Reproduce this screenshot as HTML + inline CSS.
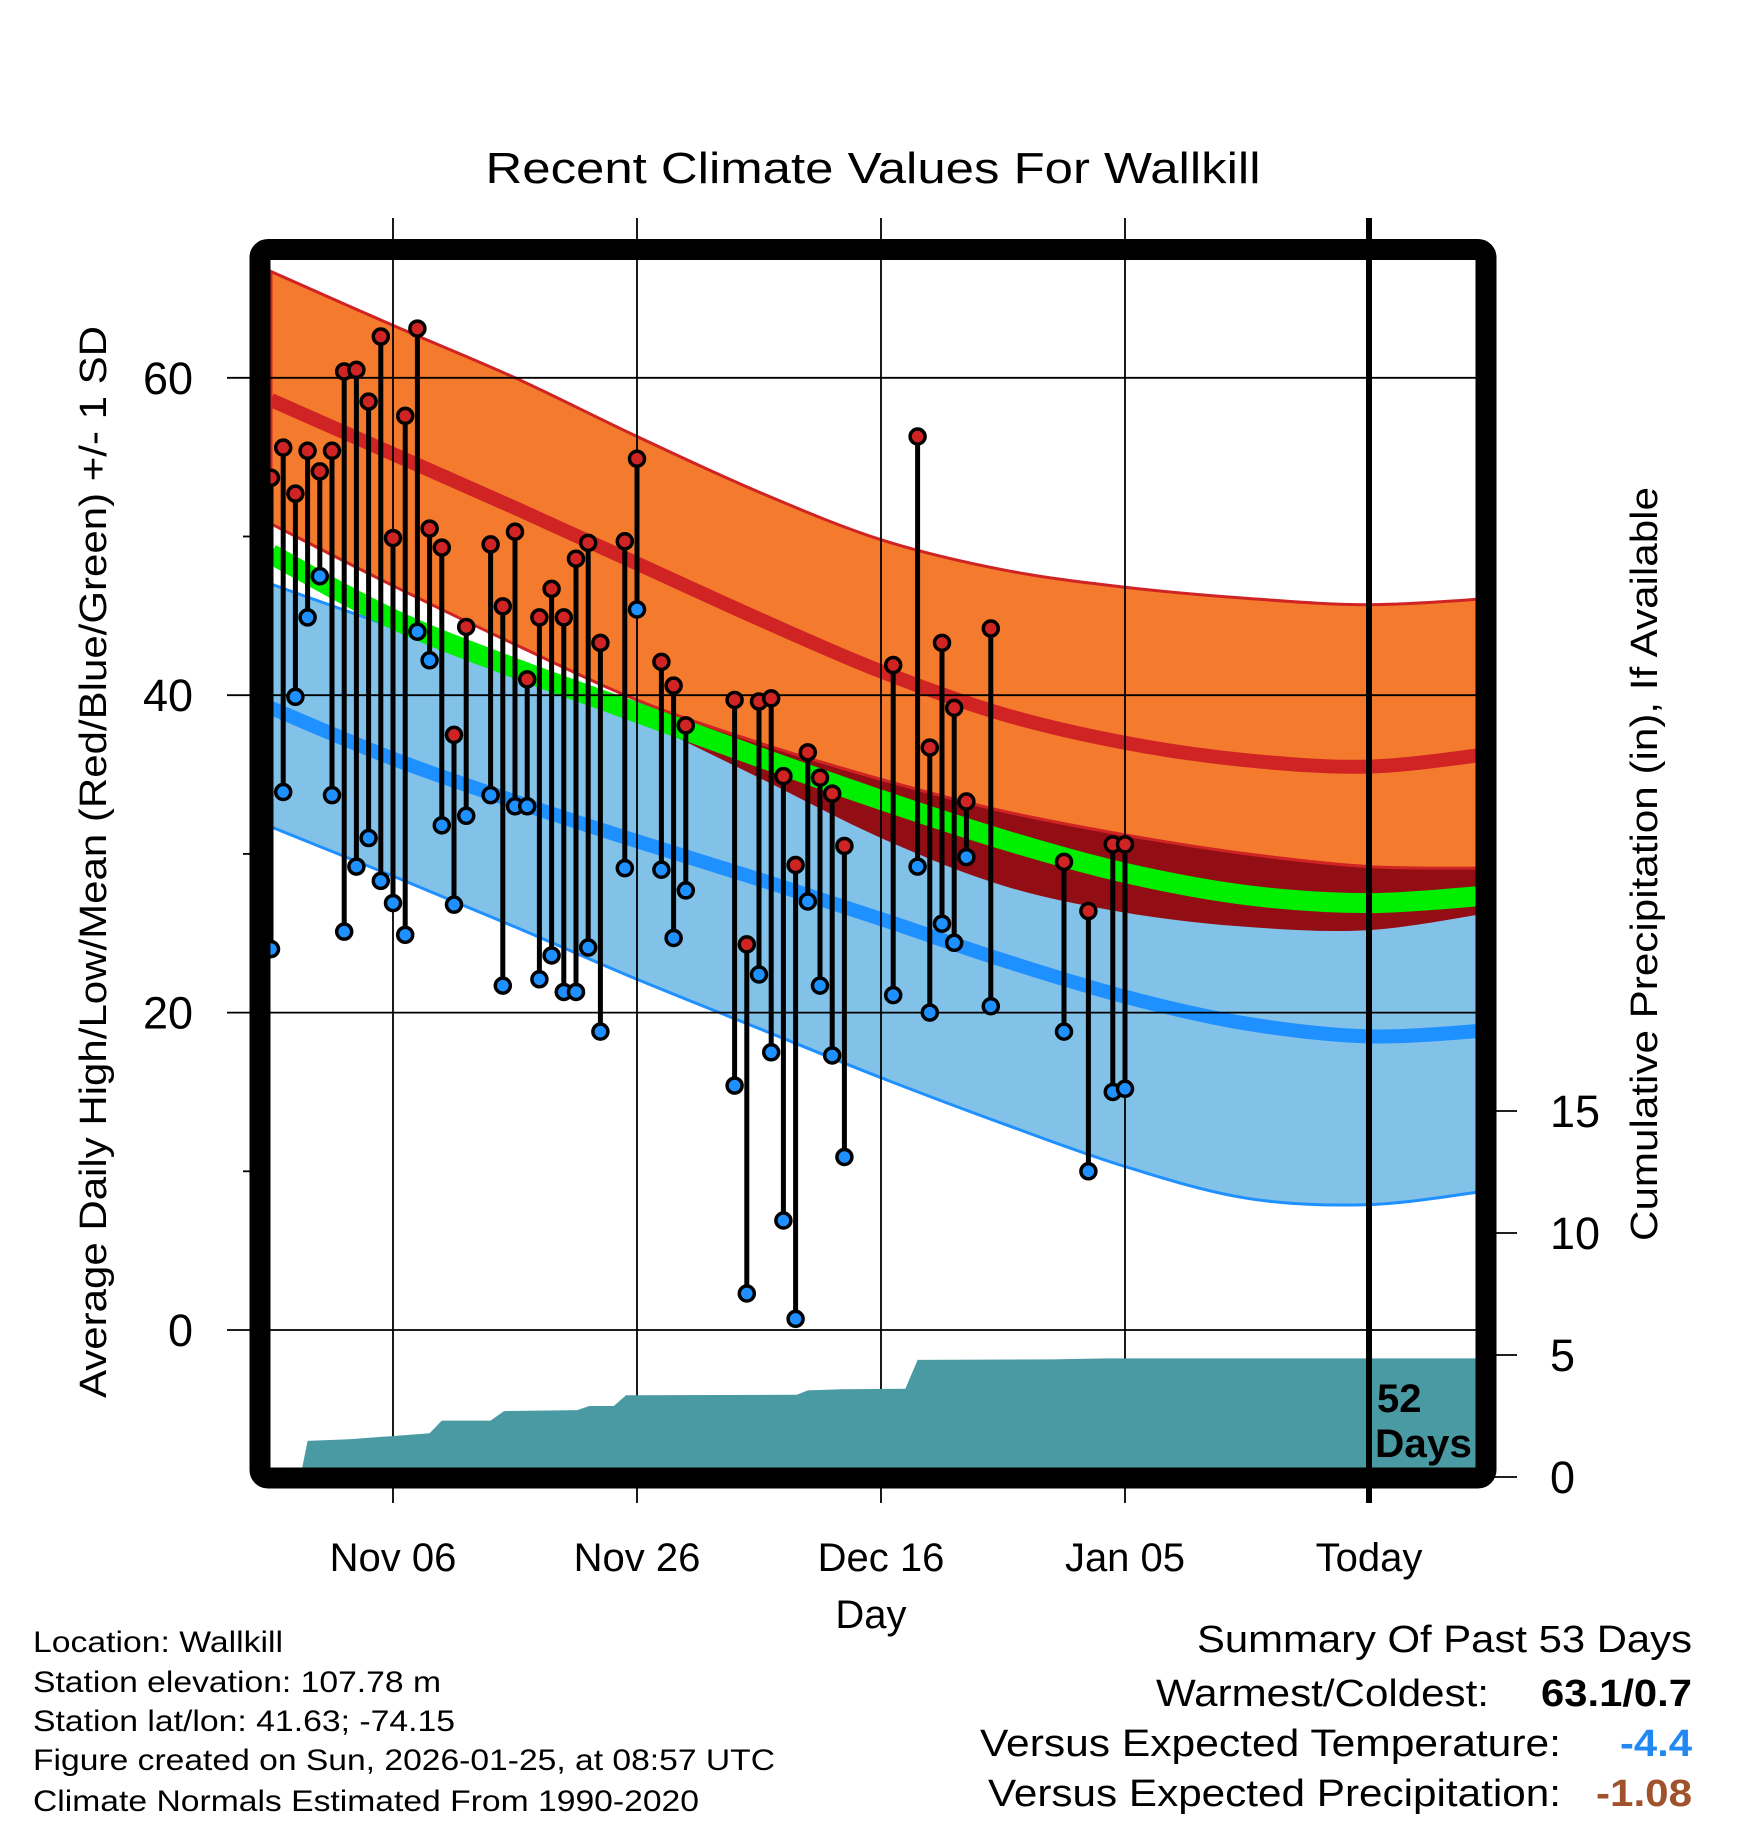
<!DOCTYPE html>
<html><head><meta charset="utf-8"><style>
html,body{margin:0;padding:0;background:#fff;}
svg{display:block;font-family:"Liberation Sans",Arial,sans-serif;}
</style></head><body>
<svg id="chart" width="1748" height="1828" viewBox="0 0 1748 1828" xmlns="http://www.w3.org/2000/svg">
<defs><clipPath id="plotclip"><rect x="270" y="259" width="1207" height="1209"/></clipPath></defs>
<rect x="0" y="0" width="1748" height="1828" fill="#fff"/>
<g id="bands" clip-path="url(#plotclip)"></g>
<g id="grid"></g>
<g id="precip" clip-path="url(#plotclip)"></g>
<g id="obs" clip-path="url(#plotclip)"></g>
<rect x="260" y="249.5" width="1226" height="1228.5" rx="8" fill="none" stroke="#000" stroke-width="21"/>
<g id="axes"></g>
<text x="873" y="183" font-size="44" text-anchor="middle" textLength="775" lengthAdjust="spacingAndGlyphs">Recent Climate Values For Wallkill</text>
<text transform="translate(106,862) rotate(-90)" font-size="38" text-anchor="middle" textLength="1072" lengthAdjust="spacingAndGlyphs">Average Daily High/Low/Mean (Red/Blue/Green) +/- 1 SD</text>
<text transform="translate(1657,864) rotate(-90)" font-size="38" text-anchor="middle" textLength="754" lengthAdjust="spacingAndGlyphs">Cumulative Precipitation (in), If Available</text>
<text x="871" y="1628" font-size="40" text-anchor="middle">Day</text>
<text x="1377" y="1412" font-size="40" font-weight="bold">52</text>
<text x="1375" y="1457" font-size="40" font-weight="bold" textLength="97" lengthAdjust="spacingAndGlyphs">Days</text>
<g font-size="30">
<text x="33" y="1652" textLength="250" lengthAdjust="spacingAndGlyphs">Location: Wallkill</text>
<text x="33" y="1692" textLength="408" lengthAdjust="spacingAndGlyphs">Station elevation: 107.78 m</text>
<text x="33" y="1731" textLength="422" lengthAdjust="spacingAndGlyphs">Station lat/lon: 41.63; -74.15</text>
<text x="33" y="1770" textLength="742" lengthAdjust="spacingAndGlyphs">Figure created on Sun, 2026-01-25, at 08:57 UTC</text>
<text x="33" y="1811" textLength="666" lengthAdjust="spacingAndGlyphs">Climate Normals Estimated From 1990-2020</text>
</g>
<g font-size="38">
<text x="1692" y="1652" text-anchor="end" textLength="495" lengthAdjust="spacingAndGlyphs">Summary Of Past 53 Days</text>
<text x="1489" y="1706" text-anchor="end" textLength="333" lengthAdjust="spacingAndGlyphs">Warmest/Coldest:</text>
<text x="1692" y="1706" text-anchor="end" font-weight="bold" textLength="151" lengthAdjust="spacingAndGlyphs">63.1/0.7</text>
<text x="1561" y="1756" text-anchor="end" textLength="581" lengthAdjust="spacingAndGlyphs">Versus Expected Temperature:</text>
<text x="1692" y="1756" text-anchor="end" font-weight="bold" fill="#2088f0" textLength="72" lengthAdjust="spacingAndGlyphs">-4.4</text>
<text x="1561" y="1806" text-anchor="end" textLength="573" lengthAdjust="spacingAndGlyphs">Versus Expected Precipitation:</text>
<text x="1692" y="1806" text-anchor="end" font-weight="bold" fill="#a0522d" textLength="96" lengthAdjust="spacingAndGlyphs">-1.08</text>
</g>
</svg>
<script>
// Normals knots (day index relative to Nov 06)
const normDays = [-10, 0, 10, 20, 30, 40, 50, 60, 70, 80, 90];
const highPlus = [66.7, 63.3, 60.0, 56.3, 52.8, 49.8, 47.9, 46.8, 46.1, 45.7, 46.1];
const highMean = [58.6, 55.2, 51.8, 48.3, 44.8, 41.5, 38.8, 37.0, 35.9, 35.5, 36.3];
const highMinus = [50.8, 46.9, 43.2, 39.7, 37.0, 34.7, 32.7, 31.2, 30.0, 29.2, 29.1];
const meanTemp = [48.9, 44.8, 41.7, 38.9, 36.1, 33.4, 30.9, 28.8, 27.4, 26.9, 27.4];
const darkTop = [48.9, 44.8, 41.7, 39.5, 37.0, 34.7, 32.7, 31.2, 30.0, 29.2, 29.1];
const darkBottom = [48.9, 44.8, 41.7, 38.5, 34.8, 31.0, 28.0, 26.3, 25.4, 25.2, 26.3];
const lowPlus = [47.0, 44.3, 41.8, 39.5, 37.0, 34.7, 32.7, 31.2, 30.0, 29.2, 29.1];
const lowMean = [39.2, 36.0, 33.3, 30.8, 28.4, 25.9, 23.3, 21.0, 19.3, 18.5, 18.9];
const lowMinus = [31.7, 28.6, 25.4, 22.1, 19.0, 15.9, 13.0, 10.3, 8.3, 7.9, 8.8];
// Observations
const obsDays = [-10,-9,-8,-7,-6,-5,-4,-3,-2,-1,0,1,2,3,4,5,6,8,9,10,11,12,13,14,15,16,17,19,20,22,23,24,28,29,30,31,32,33,34,35,36,37,41,43,44,45,46,47,49,55,57,59,60];
const obsHigh = [53.7,55.6,52.7,55.4,54.1,55.4,60.4,60.5,58.5,62.6,49.9,57.6,63.1,50.5,49.3,37.5,44.3,49.5,45.6,50.3,41.0,44.9,46.7,44.9,48.6,49.6,43.3,49.7,54.9,42.1,40.6,38.1,39.7,24.3,39.6,39.8,34.9,29.3,36.4,34.8,33.8,30.5,41.9,56.3,36.7,43.3,39.2,33.3,44.2,29.5,26.4,30.6,30.6];
const obsLow = [24.0,33.9,39.9,44.9,47.5,33.7,25.1,29.2,31.0,28.3,26.9,24.9,44.0,42.2,31.8,26.8,32.4,33.7,21.7,33.0,33.0,22.1,23.6,21.3,21.3,24.1,18.8,29.1,45.4,29.0,24.7,27.7,15.4,2.3,22.4,17.5,6.9,0.7,27.0,21.7,17.3,10.9,21.1,29.2,20.0,25.6,24.4,29.8,20.4,18.8,10.0,15.0,15.2];
// Cumulative precipitation
const precipDays = [-10,-7.6,-7,-3.6,-1.4,0.1,3,4,8,9.1,15.1,16.1,18.1,19.1,33.1,34,36.8,42,43,54,58.6,90];
const precipCum = [0,0,1.48,1.55,1.63,1.68,1.79,2.31,2.31,2.70,2.74,2.91,2.91,3.35,3.37,3.55,3.60,3.62,4.80,4.82,4.86,4.86];
// Axes
const xTickDays = [0, 20, 40, 60, 80];
const xTickLabels = ["Nov 06", "Nov 26", "Dec 16", "Jan 05", "Today"];
const yTicks = [0, 20, 40, 60];
const yMinorTicks = [10, 30, 50];
const pTicks = [0, 5, 10, 15];
const todayDay = 80;

const NS = "http://www.w3.org/2000/svg";
function xS(d){ return 393 + 12.2 * d; }
function yT(t){ return 1330 - 15.87 * t; }
function yP(p){ return 1477 - 24.4 * p; }
function mk(tag, attrs, parent){
  const e = document.createElementNS(NS, tag);
  for (const k in attrs) e.setAttribute(k, attrs[k]);
  parent.appendChild(e); return e;
}
function smoothPts(vals){
  return normDays.map((d,i)=>[xS(d), yT(vals[i])]);
}
function curvePath(pts, move){
  let s = (move ? "M" : "L") + pts[0][0].toFixed(1) + "," + pts[0][1].toFixed(1);
  for (let i=0;i<pts.length-1;i++){
    const p0=pts[Math.max(0,i-1)], p1=pts[i], p2=pts[i+1], p3=pts[Math.min(pts.length-1,i+2)];
    const c1=[p1[0]+(p2[0]-p0[0])/6, p1[1]+(p2[1]-p0[1])/6];
    const c2=[p2[0]-(p3[0]-p1[0])/6, p2[1]-(p3[1]-p1[1])/6];
    s += "C"+c1[0].toFixed(1)+","+c1[1].toFixed(1)+" "+c2[0].toFixed(1)+","+c2[1].toFixed(1)+" "+p2[0].toFixed(1)+","+p2[1].toFixed(1);
  }
  return s;
}
function bandPath(top, bot){
  const a = smoothPts(top), b = smoothPts(bot).reverse();
  return curvePath(a, true) + curvePath(b, false) + "Z";
}
const bands = document.getElementById("bands");
let e;
e = mk("path", {d: bandPath(lowPlus, lowMinus), fill: "#82c1e8"}, bands);


e = mk("path", {d: curvePath(smoothPts(lowMinus), true), fill: "none", stroke: "#1e90ff", "stroke-width": 3}, bands);


e = mk("path", {d: curvePath(smoothPts(lowPlus), true), fill: "none", stroke: "#1e90ff", "stroke-width": 3}, bands);


e = mk("path", {d: curvePath(smoothPts(lowMean), true), fill: "none", stroke: "#1e90ff", "stroke-width": 14}, bands);


e = mk("path", {d: bandPath(darkTop, darkBottom), fill: "#930e14"}, bands);


e = mk("path", {d: bandPath(highPlus, highMinus), fill: "#f47a2d", stroke: "#d02424", "stroke-width": 3}, bands);


e = mk("path", {d: curvePath(smoothPts(highMean), true), fill: "none", stroke: "#d02424", "stroke-width": 14}, bands);


e = mk("path", {d: curvePath(smoothPts(meanTemp), true), fill: "none", stroke: "#00ee00", "stroke-width": 20}, bands);



const grid = document.getElementById("grid");
xTickDays.forEach((d,i)=>{
  if (d === todayDay) return;
  const g = mk("line", {x1: xS(d), x2: xS(d), y1: 218, y2: 1503, stroke: "#000", "stroke-width": 1.8}, grid);
  
  
});
yTicks.forEach(t=>{
  const g = mk("line", {x1: 227, x2: 1486, y1: yT(t), y2: yT(t), stroke: "#000", "stroke-width": 1.8}, grid);
  
  
});

const precip = document.getElementById("precip");
let pd = "M" + xS(precipDays[0]) + "," + yP(0);
precipDays.forEach((d,i)=>{ pd += "L" + xS(d).toFixed(1) + "," + yP(precipCum[i]).toFixed(1); });
pd += "L" + xS(precipDays[precipDays.length-1]) + "," + yP(0) + "Z";
e = mk("path", {d: pd, fill: "#4a9aa4"}, precip);



const obs = document.getElementById("obs");
obsDays.forEach((d,i)=>{
  const s = mk("line", {x1: xS(d), x2: xS(d), y1: yT(obsHigh[i]), y2: yT(obsLow[i]), stroke: "#000", "stroke-width": 5}, obs);
  
  
});
obsDays.forEach((d,i)=>{
  const h = mk("circle", {cx: xS(d), cy: yT(obsHigh[i]), r: 7.5, fill: "#d02424", stroke: "#000", "stroke-width": 3.5}, obs);
  
  
  const l = mk("circle", {cx: xS(d), cy: yT(obsLow[i]), r: 7.5, fill: "#1e90ff", stroke: "#000", "stroke-width": 3.5}, obs);
  
  
});

const axes = document.getElementById("axes");
e = mk("line", {x1: xS(todayDay), x2: xS(todayDay), y1: 218, y2: 1503, stroke: "#000", "stroke-width": 6}, axes);


xTickDays.forEach((d,i)=>{
  const t = mk("text", {x: xS(d), y: 1571, "font-size": 40, "text-anchor": "middle"}, axes);
  t.textContent = xTickLabels[i];
  
  
});
yTicks.forEach(v=>{
  const t = mk("text", {x: 193, y: yT(v) + 16, "font-size": 45, "text-anchor": "end"}, axes);
  t.textContent = String(v);
  
  
});
yMinorTicks.forEach(v=>{
  const m = mk("line", {x1: 243, x2: 256, y1: yT(v), y2: yT(v), stroke: "#000", "stroke-width": 1.8}, axes);
  
  
});
pTicks.forEach(v=>{
  const m = mk("line", {x1: 1490, x2: 1517, y1: yP(v), y2: yP(v), stroke: "#000", "stroke-width": 1.8}, axes);
  
  
  const t = mk("text", {x: 1550, y: yP(v) + 16, "font-size": 45}, axes);
  t.textContent = String(v);
  
  
});
</script>
</body></html>
